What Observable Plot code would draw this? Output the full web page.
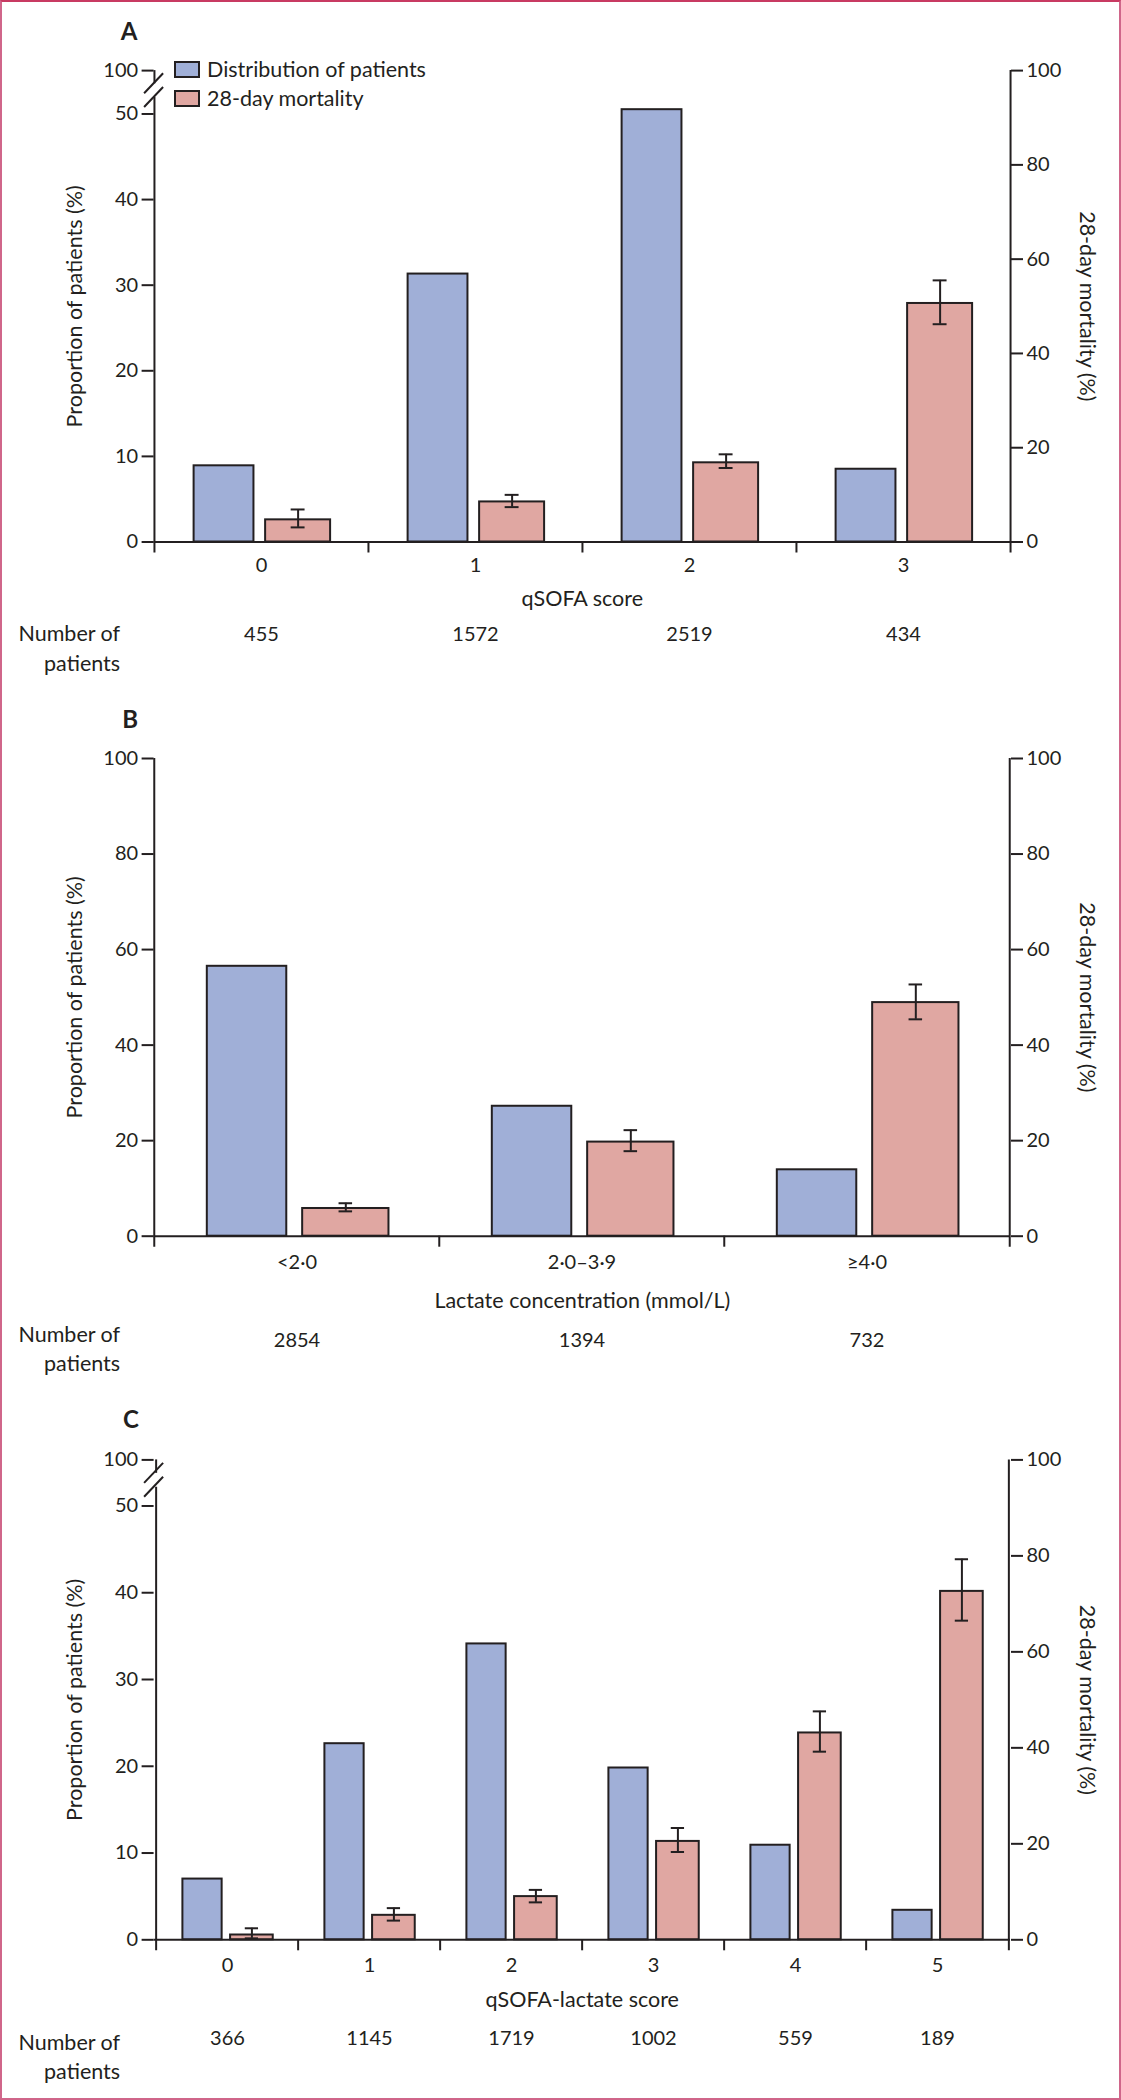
<!DOCTYPE html>
<html>
<head>
<meta charset="utf-8">
<script src="https://cdn.jsdelivr.net/npm/d3@7"></script>
<script src="https://cdn.jsdelivr.net/npm/@observablehq/plot@0.6"></script>
<style>
  html, body { margin: 0; padding: 0; background: #fff; }
  #page { position: relative; width: 1121px; height: 2100px; overflow: hidden; font-family: Lato, "Open Sans", sans-serif; color: #231f20; background: #fff; }
  #frame { position: absolute; left: 0; top: 0; width: 1121px; height: 2100px; box-sizing: border-box; border: 2px solid #d0668a; border-top-color: #c83a62; pointer-events: none; z-index: 5; }
  .panel { position: absolute; left: 0; width: 1121px; height: 700px; }
  .panel svg { position: absolute; left: 0; top: 0; overflow: visible; }
  .legend { position: absolute; left: 174px; top: 61px; z-index: 3; font-size: 21.5px; line-height: 1; }
  .legend .row { position: relative; height: 29px; }
  .legend .sw { position: absolute; left: 0; top: 0; width: 26px; height: 17px; box-sizing: border-box; border: 2px solid #231f20; }
  .legend .lab { position: absolute; left: 33px; top: -2px; white-space: nowrap; }
</style>
</head>
<body>
<div id="page">
  <div id="frame"></div>
</div>
<script>
// ---------- Data ----------
const seriesNames = ["Distribution of patients", "28-day mortality"];
const seriesColors = ["#a0afd7", "#e0a7a2"];

// Panel A: qSOFA score
const qsofaCats = ["0", "1", "2", "3"];
const qsofaDist = [8.9, 31.3, 50.5, 8.5];      // % of patients (left axis)
const qsofaMort = [4.7, 8.5, 16.8, 50.6];      // 28-day mortality % (right axis)
const qsofaLo   = [3.1, 7.4, 15.7, 46.2];
const qsofaHi   = [6.9, 10.0, 18.6, 55.5];
const qsofaN    = [455, 1572, 2519, 434];

// Panel B: lactate concentration
const lactCats = ["<2·0", "2·0–3·9", "≥4·0"];
const lactDist = [56.5, 27.2, 13.9];
const lactMort = [5.8, 19.7, 48.9];
const lactLo   = [5.2, 17.8, 45.4];
const lactHi   = [6.9, 22.2, 52.7];
const lactN    = [2854, 1394, 732];

// Panel C: qSOFA-lactate score
const qlCats = ["0", "1", "2", "3", "4", "5"];
const qlDist = [7.0, 22.6, 34.1, 19.8, 10.9, 3.4];
const qlMort = [1.0, 5.1, 9.0, 20.5, 43.1, 72.6];
const qlLo   = [0.3, 4.0, 7.8, 18.3, 39.2, 66.5];
const qlHi   = [2.4, 6.6, 10.4, 23.3, 47.6, 79.3];
const qlN    = [366, 1145, 1719, 1002, 559, 189];

// Tick labels
const leftTicksBroken = [0, 10, 20, 30, 40, 50];
const leftTicksFull = [0, 20, 40, 60, 80, 100];
const rightTicks = [0, 20, 40, 60, 80, 100];

// ---------- Drawing ----------
const INK = "#231f20";
const W = 1121, H = 700, ML = 153.6, MR = 111;

function panel(cfg) {
  const {letter, cats, dist, mort, lo, hi, n, k, xLabel, mt, mb, top, brk, d} = cfg;
  const bw = (W - ML - MR) / cats.length;
  const rows = cats.map((c, i) => ({cat: c, dist: dist[i] * k, mort: mort[i], lo: lo[i], hi: hi[i], n: n[i]}));
  const pxPerUnit = (H - mt - mb) / 100;
  const tickU = 11 / pxPerUnit;
  const leftVals = brk ? leftTicksBroken : leftTicksFull;
  const leftMap = new Map(leftVals.map(v => [v * k, String(v)]));
  if (brk) leftMap.set(100, "100");
  const leftPos = Array.from(leftMap.keys());

  const blueL = 0.185 * bw, blueR = (1 - 0.465) * bw;
  const pinkL = 0.519 * bw, pinkR = (1 - 0.823) * bw;
  const pinkC = (pinkL + bw - pinkR) / 2;     // pink bar centre within band
  const capHalf = 7;
  const brkHigh = 97.2, brkLow = 94.3;

  const marks = [
    Plot.barY(rows, {x: "cat", y1: 0, y2: "dist", fill: seriesColors[0], stroke: INK, strokeWidth: 2, insetLeft: blueL, insetRight: blueR}),
    Plot.barY(rows, {x: "cat", y1: 0, y2: "mort", fill: seriesColors[1], stroke: INK, strokeWidth: 2, insetLeft: pinkL, insetRight: pinkR}),
    // error bars
    Plot.ruleX(rows, {x: "cat", y1: "lo", y2: "hi", dx: pinkC - bw / 2, stroke: INK, strokeWidth: 2}),
    Plot.tickY(rows, {x: "cat", y: "lo", stroke: INK, strokeWidth: 2, insetLeft: pinkC - capHalf, insetRight: bw - pinkC - capHalf}),
    Plot.tickY(rows, {x: "cat", y: "hi", stroke: INK, strokeWidth: 2, insetLeft: pinkC - capHalf, insetRight: bw - pinkC - capHalf}),
    // baseline and category boundary ticks
    Plot.ruleY([0], {stroke: INK, strokeWidth: 2}),
    Plot.ruleX(cats.slice(1), {x: c => c, y1: -tickU, y2: 0, dx: -bw / 2, stroke: INK, strokeWidth: 2}),
    // right axis line
    Plot.ruleX([cats[cats.length - 1]], {x: c => c, y1: -tickU, y2: 100, dx: bw / 2, stroke: INK, strokeWidth: 2}),
    // left axis line (possibly broken)
    ...(brk
      ? [Plot.ruleX([cats[0]], {x: c => c, y1: -tickU, y2: brkLow, dx: -bw / 2, stroke: INK, strokeWidth: 2}),
         Plot.ruleX([cats[0]], {x: c => c, y1: brkHigh, y2: 100, dx: -bw / 2, stroke: INK, strokeWidth: 2})]
      : [Plot.ruleX([cats[0]], {x: c => c, y1: -tickU, y2: 100, dx: -bw / 2, stroke: INK, strokeWidth: 2})]),
    Plot.axisY(leftPos, {anchor: "left", tickSize: 12, tickPadding: 4, strokeWidth: 2, stroke: INK, fill: INK, label: null, tickFormat: v => leftMap.get(v) ?? ""}),
    Plot.axisY(rightTicks, {anchor: "right", tickSize: 12, tickPadding: 4, strokeWidth: 2, stroke: INK, fill: INK, label: null}),
    // category tick labels, axis label, numbers of patients
    Plot.text(cats, {x: c => c, frameAnchor: "bottom", lineAnchor: "middle", dy: d.tick, fontSize: 20, fill: INK}),
    Plot.text([xLabel], {frameAnchor: "bottom", lineAnchor: "middle", textAnchor: "middle", dy: d.xlab, fontSize: 21.5, fill: INK}),
    Plot.text(rows, {x: "cat", text: r => String(r.n), frameAnchor: "bottom", lineAnchor: "middle", dy: d.num, fontSize: 20, fill: INK}),
    Plot.text(["Number of\npatients"], {frameAnchor: "bottom-left", textAnchor: "end", lineAnchor: "middle", dx: -34, dy: d.numLab, lineHeight: 1.36, fontSize: 21.5, fill: INK}),
    // axis titles
    Plot.text(["Proportion of patients (%)"], {frameAnchor: "left", textAnchor: "middle", lineAnchor: "middle", rotate: -90, dx: -78.6, fontSize: 21.5, fill: INK}),
    Plot.text(["28-day mortality (%)"], {frameAnchor: "right", textAnchor: "middle", lineAnchor: "middle", rotate: 90, dx: 76.8, fontSize: 21.5, fill: INK}),
    // panel letter
    Plot.text([letter], {frameAnchor: "top-left", textAnchor: "middle", lineAnchor: "middle", dx: d.lx, dy: d.ly, fontSize: 24, fontWeight: "bold", fill: INK})
  ];

  const chart = Plot.plot({
    width: W, height: H,
    marginLeft: ML, marginRight: MR, marginTop: mt, marginBottom: mb,
    x: {type: "band", domain: cats, padding: 0, axis: null},
    y: {domain: [0, 100], label: null, axis: null},
    style: {fontFamily: "Lato, 'Open Sans', sans-serif", fontSize: "20px", color: INK, background: "transparent", overflow: "visible"},
    marks
  });

  // axis break slashes, positioned through the plot's y scale
  if (brk) {
    const ys = chart.scale("y");
    const g = d3.select(chart).append("g").attr("stroke", INK).attr("stroke-width", 2).attr("fill", "none");
    for (const v of [brkHigh, brkLow]) {
      const yc = ys.apply(v);
      g.append("line").attr("x1", ML - 9.5).attr("y1", yc + 10).attr("x2", ML + 9.5).attr("y2", yc - 10);
    }
  }

  const div = document.createElement("div");
  div.className = "panel";
  div.style.top = top + "px";
  div.appendChild(chart);
  document.getElementById("page").appendChild(div);
  return div;
}

const pA = panel({letter: "A", cats: qsofaCats, dist: qsofaDist, mort: qsofaMort, lo: qsofaLo, hi: qsofaHi, n: qsofaN,
  k: 1.816, xLabel: "qSOFA score", mt: 70.1, mb: 158.5, top: 0, brk: true,
  d: {tick: 23.2, xlab: 56.7, num: 92.4, numLab: 104.7, lx: -25, ly: -38}});

const pB = panel({letter: "B", cats: lactCats, dist: lactDist, mort: lactMort, lo: lactLo, hi: lactHi, n: lactN,
  k: 1, xLabel: "Lactate concentration (mmol/L)", mt: 58, mb: 164.3, top: 700, brk: false,
  d: {tick: 25.9, xlab: 64.7, num: 104, numLab: 111, lx: -24, ly: -37.9}});

const pC = panel({letter: "C", cats: qlCats, dist: qlDist, mort: qlMort, lo: qlLo, hi: qlHi, n: qlN,
  k: 1.808, xLabel: "qSOFA-lactate score", mt: 59.4, mb: 160.7, top: 1400, brk: true,
  d: {tick: 25.4, xlab: 60.3, num: 99.1, numLab: 115.4, lx: -23.2, ly: -39.4}});

// legend for panel A
const legend = document.createElement("div");
legend.className = "legend";
seriesNames.forEach((name, i) => {
  const row = document.createElement("div");
  row.className = "row";
  const sw = document.createElement("div");
  sw.className = "sw";
  sw.style.background = seriesColors[i];
  const lab = document.createElement("div");
  lab.className = "lab";
  lab.textContent = name;
  row.appendChild(sw); row.appendChild(lab);
  legend.appendChild(row);
});
pA.appendChild(legend);
</script>
</body>
</html>
